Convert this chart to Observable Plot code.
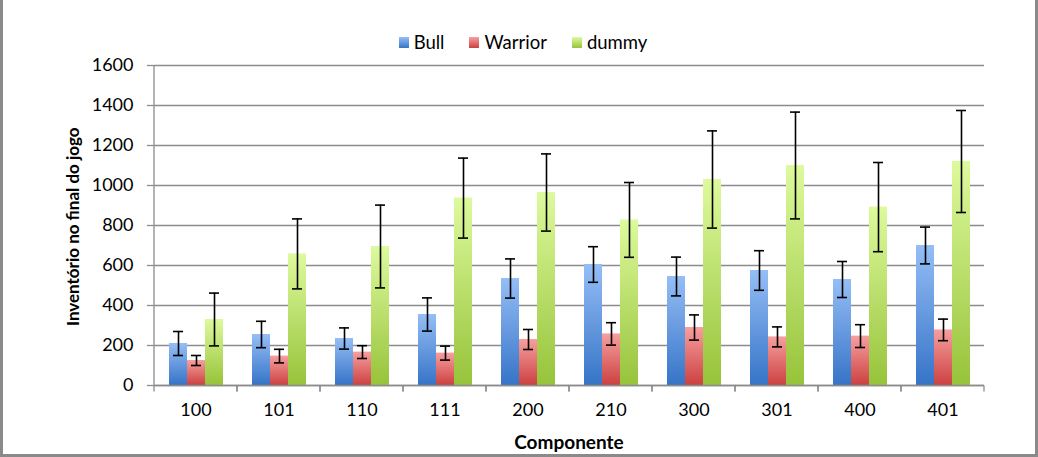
<!DOCTYPE html>
<html>
<head>
<meta charset="utf-8">
<script src="https://cdn.jsdelivr.net/npm/d3@7"></script>
<script src="https://cdn.jsdelivr.net/npm/@observablehq/plot@0.6"></script>
<style>
  body { margin: 0; background: #fff; font-family: Lato, "Open Sans", sans-serif; }
  #wrap { position: relative; width: 1038px; height: 457px; overflow: hidden; background: #fff; }
  #border { position: absolute; left: 0; top: 0; width: 1038px; height: 457px; box-sizing: border-box;
            border: 3px solid #8a8a8a; border-top: none; pointer-events: none; z-index: 5; }
  #legend { position: absolute; top: 31px; left: 8px; width: 1030px; display: flex; justify-content: center;
            gap: 25px; font-size: 18.5px; color: #000; line-height: 22px; }
  .item { display: flex; align-items: center; gap: 5px; }
  .sw { width: 10px; height: 11px; }
  #chart { position: absolute; left: 0; top: 60px; }
  #ylab { position: absolute; left: 63px; top: 100px; width: 20px; height: 253px; line-height: 20px;
          writing-mode: vertical-rl; transform: rotate(180deg); text-align: center;
          white-space: nowrap; font-weight: bold; font-size: 17px; }
  #xlab { position: absolute; left: 569px; top: 441px; transform: translate(-50%, -50%);
          white-space: nowrap; font-weight: bold; font-size: 19px; }
</style>
</head>
<body>
<svg width="0" height="0" style="position:absolute">
  <defs>
    <linearGradient id="gBull" x1="0" y1="0" x2="0" y2="1">
      <stop offset="0" stop-color="#95bef6"/><stop offset="1" stop-color="#3674c7"/>
    </linearGradient>
    <linearGradient id="gWarrior" x1="0" y1="0" x2="0" y2="1">
      <stop offset="0" stop-color="#f79f9f"/><stop offset="1" stop-color="#cc4141"/>
    </linearGradient>
    <linearGradient id="gDummy" x1="0" y1="0" x2="0" y2="1">
      <stop offset="0" stop-color="#ddfa9d"/><stop offset="1" stop-color="#97c33a"/>
    </linearGradient>
  </defs>
</svg>
<div id="wrap">
  <div id="legend"></div>
  <div id="chart"></div>
  <div id="ylab">Inventório no final do jogo</div>
  <div id="xlab">Componente</div>
  <div id="border"></div>
</div>
<script>
// ---- data ----
const categories = ["100", "101", "110", "111", "200", "210", "300", "301", "400", "401"];
const seriesNames = ["Bull", "Warrior", "dummy"];
const bull       = [210, 255, 235, 355, 535, 605, 545, 575, 530, 700];
const bullErr    = [60, 66, 53, 83, 98, 89, 97, 99, 90, 92];
const warrior    = [125, 147, 167, 162, 230, 258, 290, 243, 247, 278];
const warriorErr = [25, 34, 32, 35, 50, 56, 63, 50, 57, 54];
const dummy      = [330, 658, 695, 937, 965, 828, 1030, 1100, 892, 1120];
const dummyErr   = [132, 175, 207, 200, 193, 187, 243, 267, 223, 255];
const yTicks = [0, 200, 400, 600, 800, 1000, 1200, 1400, 1600];

const gradients = ["url(#gBull)", "url(#gWarrior)", "url(#gDummy)"];
const swatchCss = [
  "linear-gradient(#95bef6, #3674c7)",
  "linear-gradient(#f79f9f, #cc4141)",
  "linear-gradient(#ddfa9d, #97c33a)"
];

const values = [bull, warrior, dummy];
const errs = [bullErr, warriorErr, dummyErr];
const rows = categories.flatMap((c, i) =>
  seriesNames.map((s, k) => ({cat: c, series: s, value: values[k][i], err: errs[k][i]})));
const catRows = categories.map(c => ({cat: c}));

// legend
const legend = document.getElementById("legend");
seriesNames.forEach((s, k) => {
  const it = document.createElement("div");
  it.className = "item";
  it.innerHTML = `<span class="sw" style="background:${swatchCss[k]}"></span><span>${s}</span>`;
  legend.appendChild(it);
});

const gray = "#8c8c8c";

const chart = Plot.plot({
  width: 1038,
  height: 397,
  marginLeft: 151,
  marginRight: 52,
  marginTop: 5,
  marginBottom: 72,
  style: {fontFamily: "Lato, 'Open Sans', sans-serif", fontSize: "18px", color: "#000", background: "transparent", overflow: "visible"},
  fx: {domain: categories, padding: 0, label: null},
  x: {domain: seriesNames, axis: null, paddingInner: 0, paddingOuter: 0.73},
  y: {domain: [0, 1600], label: null},
  color: {domain: seriesNames, range: gradients},
  marks: [
    Plot.gridY(yTicks, {stroke: gray, strokeOpacity: 1, strokeWidth: 1.3}),
    Plot.axisY(yTicks, {tickSize: 7, tickPadding: 14, tickFormat: d => String(d), stroke: gray, strokeWidth: 1.3, fill: "#000", fontSize: 18, label: null}),
    Plot.axisFx({anchor: "bottom", tickSize: 0, tickPadding: 18, fontSize: 18, label: null, fill: "#000"}),
    Plot.barY(rows, {fx: "cat", x: "series", y: "value", fill: "series"}),
    Plot.ruleY(catRows, {
      fx: "cat", y: () => 0, stroke: gray, strokeWidth: 1.3,
      render(index, scales, vals, dims, ctx, next) {
        const g = next(index, scales, vals, dims, ctx);
        const [a, b] = scales.x.range();
        const y0 = scales.y(0), yTop = scales.y(1600);
        const sel = d3.select(g);
        for (const xx of [a, b]) {
          sel.append("line").attr("x1", xx).attr("x2", xx).attr("y1", y0).attr("y2", y0 + 6)
            .attr("stroke", gray).attr("stroke-width", 1.3);
        }
        if (index.some(i => catRows[i].cat === categories[0])) {
          sel.append("line").attr("x1", a).attr("x2", a).attr("y1", y0).attr("y2", yTop)
            .attr("stroke", gray).attr("stroke-width", 1.3);
        }
        return g;
      }
    }),
    Plot.ruleX(rows, {fx: "cat", x: "series", y1: d => d.value - d.err, y2: d => d.value + d.err, stroke: "#000", strokeWidth: 1.6}),
    Plot.tickY(rows, {fx: "cat", x: "series", y: d => d.value + d.err, stroke: "#000", strokeWidth: 1.6, insetLeft: 4, insetRight: 4}),
    Plot.tickY(rows, {fx: "cat", x: "series", y: d => d.value - d.err, stroke: "#000", strokeWidth: 1.6, insetLeft: 4, insetRight: 4})
  ]
});
document.getElementById("chart").appendChild(chart);
</script>
</body>
</html>
